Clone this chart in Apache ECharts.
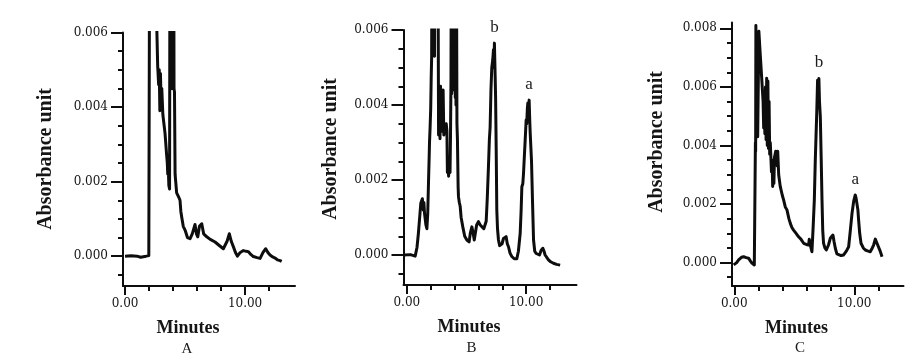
<!DOCTYPE html>
<html><head><meta charset="utf-8">
<script src="https://cdn.jsdelivr.net/npm/echarts@6/dist/echarts.min.js"></script>
<style>html,body{margin:0;padding:0;background:#fff}#c{width:922px;height:364px}</style>
</head><body><div id="c"></div>
<script>
// ---------- DATA ----------
const timeA = [0, 0.5, 1.0, 1.3, 1.75, 1.98, 2.05, 2.4, 2.64, 2.72, 2.8, 2.85, 2.9, 2.95, 3.0, 3.06, 3.15, 3.33, 3.47, 3.52, 3.56, 3.6, 3.65, 3.71, 3.74, 3.76, 3.78, 3.8, 3.82, 3.84, 3.86, 3.88, 3.9, 3.92, 3.94, 3.96, 3.98, 4.0, 4.02, 4.04, 4.06, 4.08, 4.12, 4.17, 4.3, 4.45, 4.58, 4.65, 4.72, 4.85, 5.0, 5.2, 5.42, 5.6, 5.83, 5.95, 6.06, 6.2, 6.39, 6.55, 6.81, 7.1, 7.5, 7.8, 8.19, 8.35, 8.5, 8.69, 8.85, 9.03, 9.2, 9.36, 9.6, 9.86, 10.1, 10.28, 10.5, 10.69, 11.0, 11.25, 11.5, 11.72, 11.9, 12.08, 12.3, 12.5, 12.7, 12.92, 13.05];
const absA  = [0, 0.00001, 0, -0.00003, 0, 0.00002, 0.009, 0.012, 0.0062, 0.0051, 0.0046, 0.005, 0.0039, 0.0049, 0.0042, 0.0045, 0.0038, 0.0033, 0.0027, 0.0025, 0.0022, 0.0024, 0.0019, 0.0018, 0.0085, 0.0048, 0.0085, 0.0046, 0.0085, 0.0047, 0.0085, 0.0045, 0.0085, 0.0046, 0.0085, 0.0047, 0.0085, 0.0045, 0.0085, 0.0046, 0.0085, 0.0045, 0.0044, 0.0022, 0.0017, 0.0016, 0.0015, 0.0012, 0.00105, 0.0008, 0.0007, 0.0005, 0.00047, 0.0006, 0.00085, 0.0006, 0.00052, 0.0008, 0.00087, 0.0006, 0.00052, 0.00045, 0.00038, 0.0003, 0.0002, 0.00022, 0.0004, 0.0006, 0.0004, 0.00025, 0.0001, 0, 0.0001, 0.00015, 0.00013, 0.00012, 0.00004, -0.00001, -0.00004, -0.00006, 0.0001, 0.0002, 0.0001, 0.00003, -0.00002, -0.00005, -0.0001, -0.00012, -0.00014];

const timeB = [-0.2, 0.3, 0.7, 0.85, 0.97, 1.1, 1.17, 1.3, 1.38, 1.43, 1.48, 1.6, 1.68, 1.75, 1.82, 1.87, 1.9, 1.95, 2.0, 2.04, 2.08, 2.11, 2.14, 2.17, 2.2, 2.23, 2.26, 2.29, 2.32, 2.35, 2.6, 2.66, 2.72, 2.78, 2.82, 2.88, 2.93, 2.98, 3.04, 3.1, 3.2, 3.3, 3.36, 3.4, 3.45, 3.5, 3.56, 3.62, 3.66, 3.7, 3.73, 3.76, 3.79, 3.82, 3.85, 3.88, 3.91, 3.94, 3.97, 4.0, 4.03, 4.06, 4.09, 4.12, 4.15, 4.2, 4.24, 4.3, 4.33, 4.4, 4.47, 4.55, 4.69, 4.85, 5.03, 5.22, 5.33, 5.45, 5.55, 5.65, 5.72, 5.85, 6.0, 6.15, 6.29, 6.45, 6.56, 6.65, 6.74, 6.84, 6.92, 6.98, 7.05, 7.12, 7.2, 7.26, 7.3, 7.34, 7.4, 7.44, 7.49, 7.54, 7.6, 7.68, 7.78, 7.88, 7.98, 8.1, 8.2, 8.32, 8.42, 8.52, 8.65, 8.8, 9.0, 9.22, 9.35, 9.5, 9.58, 9.64, 9.72, 9.78, 9.86, 9.92, 10.0, 10.05, 10.1, 10.14, 10.2, 10.25, 10.3, 10.34, 10.4, 10.45, 10.53, 10.62, 10.72, 10.84, 11.0, 11.12, 11.25, 11.4, 11.5, 11.59, 11.7, 11.87, 12.05, 12.29, 12.55, 12.85];
const absB  = [0, 0.00001, -0.00003, 0.0002, 0.00058, 0.0011, 0.00138, 0.0015, 0.0012, 0.0014, 0.00112, 0.0008, 0.0007, 0.0011, 0.002, 0.0026, 0.003, 0.0034, 0.0039, 0.0047, 0.0053, 0.009, 0.0055, 0.009, 0.0054, 0.009, 0.0056, 0.009, 0.0053, 0.009, 0.009, 0.0032, 0.0044, 0.0031, 0.0045, 0.0034, 0.0043, 0.0033, 0.0044, 0.0032, 0.0034, 0.0035, 0.0033, 0.0022, 0.0025, 0.0021, 0.0025, 0.0022, 0.0032, 0.0047, 0.009, 0.0043, 0.009, 0.0045, 0.009, 0.0044, 0.009, 0.0046, 0.009, 0.0045, 0.009, 0.0042, 0.009, 0.004, 0.009, 0.0035, 0.0031, 0.0018, 0.00155, 0.0014, 0.0013, 0.001, 0.00075, 0.0005, 0.0004, 0.00035, 0.0006, 0.00075, 0.0006, 0.0004, 0.00045, 0.0008, 0.00089, 0.0008, 0.00075, 0.0007, 0.00072, 0.0009, 0.0015, 0.00235, 0.0031, 0.0034, 0.0044, 0.005, 0.0052, 0.00547, 0.005, 0.00565, 0.0048, 0.0042, 0.0028, 0.0012, 0.0007, 0.0004, 0.00025, 0.00022, 0.0003, 0.00044, 0.0004, 0.00049, 0.0003, 0.00022, 0.00005, -0.00004, -0.0001, -0.0001, 0.0001, 0.00058, 0.0012, 0.00182, 0.0019, 0.00218, 0.0027, 0.00307, 0.0036, 0.0035, 0.0039, 0.00405, 0.0037, 0.00413, 0.0036, 0.00325, 0.0032, 0.0025, 0.00147, 0.0004, 0.0001, 0.00004, 0.00002, 0, 0.00012, 0.00018, 0.0001, 0, -0.00005, -0.00013, -0.00018, -0.00022, -0.00025, -0.00027];

const timeC = [-0.05, 0.2, 0.36, 0.6, 0.78, 1.0, 1.19, 1.35, 1.47, 1.67, 1.74, 1.76, 1.78, 1.8, 1.88, 1.95, 2.05, 2.15, 2.3, 2.4, 2.45, 2.5, 2.55, 2.6, 2.65, 2.7, 2.75, 2.8, 2.85, 2.9, 2.95, 3.0, 3.05, 3.1, 3.15, 3.2, 3.25, 3.3, 3.35, 3.45, 3.52, 3.58, 3.62, 3.7, 3.83, 4.0, 4.11, 4.25, 4.39, 4.55, 4.67, 4.8, 4.94, 5.15, 5.36, 5.55, 5.78, 6.0, 6.19, 6.25, 6.33, 6.47, 6.57, 6.67, 6.75, 6.81, 6.87, 6.94, 7.0, 7.05, 7.1, 7.17, 7.24, 7.31, 7.37, 7.44, 7.55, 7.67, 7.85, 8.0, 8.22, 8.32, 8.42, 8.55, 8.69, 8.9, 9.11, 9.35, 9.53, 9.67, 9.81, 9.95, 10.08, 10.15, 10.22, 10.3, 10.36, 10.45, 10.56, 10.75, 10.92, 11.1, 11.33, 11.5, 11.61, 11.75, 11.83, 11.95, 12.03, 12.15, 12.31];
const absC  = [-0.00008, 0, 0.00009, 0.00018, 0.0002, 0.00017, 0.00015, 0.00005, -0.00002, -0.00008, -0.0001, 0.0041, 0.0038, 0.0081, 0.0045, 0.0043, 0.0079, 0.0072, 0.0062, 0.0055, 0.0046, 0.0052, 0.0044, 0.006, 0.0042, 0.0063, 0.004, 0.0062, 0.0039, 0.0055, 0.0037, 0.0041, 0.0036, 0.0031, 0.0035, 0.0026, 0.0033, 0.0027, 0.0036, 0.0038, 0.0037, 0.0033, 0.0038, 0.003, 0.0026, 0.0023, 0.00214, 0.0019, 0.0018, 0.0015, 0.00134, 0.0012, 0.00111, 0.001, 0.00088, 0.0008, 0.00066, 0.00062, 0.0006, 0.0008, 0.0006, 0.00037, 0.0012, 0.00214, 0.0035, 0.0043, 0.0051, 0.00623, 0.0058, 0.00629, 0.0055, 0.00498, 0.0036, 0.00214, 0.0011, 0.00066, 0.0005, 0.00043, 0.0006, 0.00083, 0.00094, 0.0007, 0.00049, 0.0003, 0.00026, 0.00024, 0.00026, 0.0004, 0.00054, 0.0011, 0.00168, 0.0021, 0.00231, 0.0022, 0.00225, 0.0018, 0.00145, 0.001, 0.00066, 0.0005, 0.00043, 0.0004, 0.00037, 0.0005, 0.0006, 0.0008, 0.00083, 0.0006, 0.00054, 0.0004, 0.0002];

const peakNamesB = ['b', 'a'];
const peakTimesB = [7.34, 10.25];
const peakAbsB   = [0.00565, 0.00413];
const peakNamesC = ['b', 'a'];
const peakTimesC = [7.05, 10.08];
const peakAbsC   = [0.00629, 0.00231];

const panelLetters = ['A', 'B', 'C'];
const xTitle = 'Minutes';
const yTitle = 'Absorbance unit';
const xMajorTicks = [0, 10];
const xMinorTicks = [2, 4, 6, 8, 12];
const yMajorTicksAB = [0, 0.002, 0.004, 0.006];
const yMinorTicksAB = [-0.0005, 0.0005, 0.001, 0.0015, 0.0025, 0.003, 0.0035, 0.0045, 0.005, 0.0055];
const yMajorTicksC = [0, 0.002, 0.004, 0.006, 0.008];
const yMinorTicksC = [-0.0005, 0.0005, 0.001, 0.0015, 0.0025, 0.003, 0.0035, 0.0045, 0.005, 0.0055, 0.0065, 0.007, 0.0075];

// ---------- LAYOUT ----------
const panels = [
  {t: timeA, v: absA, grid: {left: 123, top: 32.5, width: 172, height: 253.5}, x: [-0.17, 14.16], y: [-0.0008, 0.006],
   yMaj: yMajorTicksAB, yMin: yMinorTicksAB, peaks: null, yTitlePos: [45.5, 159], xTitlePos: [188, 328], letterPos: [187, 349]},
  {t: timeB, v: absB, grid: {left: 403.5, top: 30, width: 173, height: 255}, x: [-0.28, 14.22], y: [-0.0008, 0.006],
   yMaj: yMajorTicksAB, yMin: yMinorTicksAB, peaks: [peakNamesB, peakTimesB, peakAbsB], yTitlePos: [331, 149], xTitlePos: [469, 327], letterPos: [471.5, 348]},
  {t: timeC, v: absC, grid: {left: 732, top: 22.5, width: 171.5, height: 263.5}, x: [-0.19, 14.1], y: [-0.0008, 0.0082],
   yMaj: yMajorTicksC, yMin: yMinorTicksC, peaks: [peakNamesC, peakTimesC, peakAbsC], yTitlePos: [657, 142], xTitlePos: [796.5, 328], letterPos: [800, 348]}
];

const serif = '"Liberation Serif", "Times New Roman", serif';
const tickFont = {fontFamily: '"DejaVu Serif", serif', fontSize: 12, color: '#151515'};
const ink = '#0d0d0d';

const grid = [], xAxis = [], yAxis = [], series = [], graphic = [];
panels.forEach((p, i) => {
  grid.push(Object.assign({containLabel: false}, p.grid));
  xAxis.push({type: 'value', gridIndex: i, position: 'bottom', min: p.x[0], max: p.x[1],
    axisLine: {show: true, onZero: false, lineStyle: {color: ink, width: 2}},
    axisTick: {show: true, customValues: xMajorTicks, length: 9, lineStyle: {color: ink, width: 2}},
    axisLabel: {show: true, customValues: xMajorTicks, margin: 12, formatter: v => v.toFixed(2), ...tickFont},
    splitLine: {show: false}});
  xAxis.push({type: 'value', gridIndex: i, position: 'bottom', min: p.x[0], max: p.x[1],
    axisLine: {show: false, onZero: false},
    axisTick: {show: true, customValues: xMinorTicks, length: 5, lineStyle: {color: ink, width: 2}},
    axisLabel: {show: false}, splitLine: {show: false}});
  yAxis.push({type: 'value', gridIndex: i, position: 'left', min: p.y[0], max: p.y[1],
    axisLine: {show: true, onZero: false, lineStyle: {color: ink, width: 2}},
    axisTick: {show: true, customValues: p.yMaj, length: 12, lineStyle: {color: ink, width: 2}},
    axisLabel: {show: true, customValues: p.yMaj, margin: 15, formatter: v => v.toFixed(3), ...tickFont},
    splitLine: {show: false}});
  yAxis.push({type: 'value', gridIndex: i, position: 'left', min: p.y[0], max: p.y[1],
    axisLine: {show: false, onZero: false},
    axisTick: {show: true, customValues: p.yMin, length: 5, lineStyle: {color: ink, width: 2}},
    axisLabel: {show: false}, splitLine: {show: false}});

  const s = {
    type: 'line', xAxisIndex: 2 * i, yAxisIndex: 2 * i, clip: true,
    data: p.t.map((t, k) => [t, p.v[k]]),
    showSymbol: false, symbol: 'none', smooth: false,
    lineStyle: {color: ink, width: 3, join: 'round'},
    silent: true
  };
  if (p.peaks) {
    s.markPoint = {
      symbol: 'circle', symbolSize: 0, silent: true,
      label: {show: true, position: 'top', distance: 7, formatter: d => d.name,
        fontFamily: serif, fontSize: 17, color: '#1a1a1a'},
      data: p.peaks[0].map((n, k) => ({name: n, coord: [p.peaks[1][k], p.peaks[2][k]]}))
    };
  }
  series.push(s);

  graphic.push({type: 'text', x: p.yTitlePos[0], y: p.yTitlePos[1], rotation: Math.PI / 2,
    style: {text: yTitle, font: 'bold 20px ' + serif, fill: '#151515', align: 'center', verticalAlign: 'middle'}});
  graphic.push({type: 'text', x: p.xTitlePos[0], y: p.xTitlePos[1],
    style: {text: xTitle, font: 'bold 18px ' + serif, fill: '#151515', align: 'center', verticalAlign: 'middle'}});
  graphic.push({type: 'text', x: p.letterPos[0], y: p.letterPos[1],
    style: {text: panelLetters[i], font: '15px ' + serif, fill: '#1a1a1a', align: 'center', verticalAlign: 'middle'}});
});

const chart = echarts.init(document.getElementById('c'), null, {renderer: 'canvas'});
chart.setOption({backgroundColor: '#fff', animation: false, grid, xAxis, yAxis, series, graphic});
</script>
</body></html>
